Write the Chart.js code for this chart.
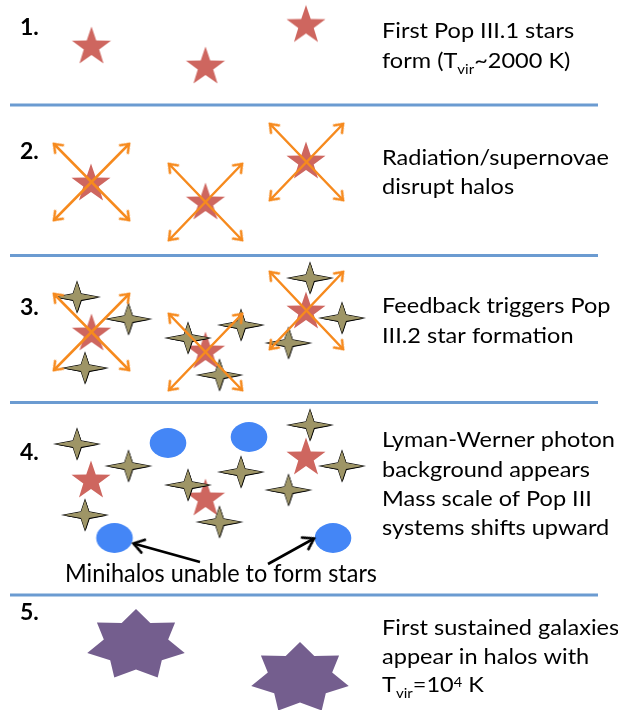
<!DOCTYPE html>
<html><head><meta charset="utf-8">
<script src="https://cdn.jsdelivr.net/npm/chart.js@4/dist/chart.umd.min.js"></script>
<style>html,body{margin:0;padding:0;background:#fff;}canvas{display:block;}</style>
</head><body>
<canvas id="c" width="618" height="710" style="width:618px;height:710px"></canvas>
<script>
// ---------- data ----------
const separatorY = [105, 255.5, 402.5, 595];
const separatorX = [10, 598];

// Pop III.1 stars (red five-pointed)
const popIII1X = [91.5, 205.5, 306,  91, 205.5, 306,  91.5, 205.5, 306,  91, 205.5, 306];
const popIII1Y = [47, 67, 25.5,      184, 203, 162,   334, 352, 312,     481, 499, 458];

// Pop III.2 stars (olive four-pointed)
const popIII2X = [77, 128.5, 85, 188, 241, 219.5, 310, 342, 288.5,
                  77, 128.5, 85, 188, 241, 219.5, 310, 342, 288.5];
const popIII2Y = [297, 319, 368, 338, 325, 375, 278, 318, 343,
                  444, 466, 515, 485, 472, 522, 425, 466, 490];

// Minihalos (blue discs)
const minihaloX = [168, 249, 114.5, 333];
const minihaloY = [443, 437, 538, 538];

// First galaxies (purple seven-pointed)
const galaxyX = [136, 300];
const galaxyY = [645, 678];

// Feedback arrows (double headed): x1, y1, x2, y2
const feedbackArrows = [
  [54,144,129,220],[129,144,54,220],
  [169,164,242,240],[242,164,169,240],
  [270,124,343,200],[343,124,270,200],
  [54,294,129,370],[129,294,54,370],
  [169,314,242,390],[242,314,169,390],
  [270,272,343,349],[343,272,270,349]
];
// Pointer arrows (tail -> tip)
const pointerArrows = [[200,562,133.5,543.5],[268,564,314,538.5]];

// Texts
const stepLabels = ["1.", "2.", "3.", "4.", "5."];
const stepTexts = [
  [["First Pop III.1 stars"], ["form (T", {sub:"vir"}, "~2000 K)"]],
  [["Radiation/supernovae"], ["disrupt halos"]],
  [["Feedback triggers Pop"], ["III.2 star formation"]],
  [["Lyman-Werner photon"], ["background appears"], ["Mass scale of Pop III"], ["systems shifts upward"]],
  [["First sustained galaxies"], ["appear in halos with"], ["T", {sub:"vir"}, "=10", {sup:"4"}, " K"]]
];
const minihaloCaption = "Minihalos unable to form stars";

// ---------- layout / style ----------
const stepLabelX = 20, stepLabelBase = [35, 158.5, 315, 460, 620];
const textX = 382;
const textBase = [[37.5, 67.5], [165, 194], [313, 343], [447, 477, 506, 535], [635, 663.5, 692]];
const captionX = 65, captionBase = 582;
const FONT = "Lato, 'Open Sans', sans-serif";

const COL = {sep:'#6b9bd1', red:'#ce665f', olive:'#9e9566', blue:'#4486f6', purple:'#745e8e', orange:'#f68a1e', black:'#000'};

function shapeCanvas(w, h, draw){ const c=document.createElement('canvas'); c.width=w; c.height=h; draw(c.getContext('2d'), w/2, h/2); return c; }
function starPath(g, cx, cy, n, Rx, Ry, rx, ry){
  g.beginPath();
  for(let i=0;i<2*n;i++){ const a=-Math.PI/2+i*Math.PI/n, o=i%2===0;
    g.lineTo(cx+Math.cos(a)*(o?Rx:rx), cy+Math.sin(a)*(o?Ry:ry)); }
  g.closePath();
}
const redStarImg = shapeCanvas(46,46,(g,cx,cy)=>{ starPath(g,cx,cy,5,20.5,20.5,8.1,8.1); g.fillStyle=COL.red; g.fill(); });
const oliveStarImg = shapeCanvas(50,38,(g,cx,cy)=>{
  starPath(g,cx+0.7,cy+0.8,4,21,15,5.6,4.4); g.fillStyle='#000'; g.fill();
  starPath(g,cx,cy,4,21,15,5.6,4.4); g.lineWidth=1.1; g.strokeStyle='#000'; g.lineJoin='miter'; g.stroke();
  g.fillStyle=COL.olive; g.fill(); });
const purpleStarImg = shapeCanvas(110,80,(g,cx,cy)=>{ starPath(g,cx,cy,7,50,36,33,24.4); g.fillStyle=COL.purple; g.fill(); });
const discImg = shapeCanvas(42,36,(g,cx,cy)=>{ g.beginPath(); g.ellipse(cx,cy,18.3,15,0,0,Math.PI*2); g.fillStyle=COL.blue; g.fill(); });
function headImg(len, ang, color, lw){
  const s = Math.ceil(len*2+6);
  return shapeCanvas(s,s,(g,cx,cy)=>{ const a=ang*Math.PI/180;
    g.beginPath(); g.moveTo(cx-len*Math.cos(a), cy-len*Math.sin(a)); g.lineTo(cx,cy); g.lineTo(cx-len*Math.cos(a), cy+len*Math.sin(a));
    g.strokeStyle=color; g.lineWidth=lw; g.lineCap='round'; g.lineJoin='miter'; g.stroke(); });
}
const orangeHead = headImg(9, 37, COL.orange, 2.5);
const blackHead = headImg(12, 33, COL.black, 2.6);

const xy = (xs, ys) => xs.map((x,i)=>({x, y:ys[i]}));
const datasets = [];
separatorY.forEach(y => datasets.push({data:[{x:separatorX[0],y},{x:separatorX[1],y}], showLine:true,
  borderColor:COL.sep, borderWidth:3, pointRadius:0, order:20}));
datasets.push({data:xy(galaxyX,galaxyY), pointStyle:purpleStarImg, pointRadius:10, order:15});
datasets.push({data:xy(minihaloX,minihaloY), pointStyle:discImg, pointRadius:10, order:14});
datasets.push({data:xy(popIII1X,popIII1Y), pointStyle:redStarImg, pointRadius:10, order:13});
datasets.push({data:xy(popIII2X,popIII2Y), pointStyle:oliveStarImg, pointRadius:10, order:12});
const dirDeg = (x1,y1,x2,y2) => Math.atan2(y2-y1, x2-x1)*180/Math.PI;
feedbackArrows.forEach(([x1,y1,x2,y2]) => {
  const d = dirDeg(x1,y1,x2,y2);
  datasets.push({data:[{x:x1,y:y1,rot:d+180},{x:x2,y:y2,rot:d}], showLine:true, borderColor:COL.orange, borderWidth:2.5,
    borderCapStyle:'round', pointStyle:orangeHead, pointRadius:5, pointRotation:c=>c.raw?c.raw.rot:0, order:5});
});
pointerArrows.forEach(([x1,y1,x2,y2]) => {
  const d = dirDeg(x1,y1,x2,y2);
  datasets.push({data:[{x:x1,y:y1,rot:0,tip:false},{x:x2,y:y2,rot:d,tip:true}], showLine:true, borderColor:COL.black, borderWidth:2.6,
    borderCapStyle:'butt', pointStyle:blackHead, pointRadius:c=>(c.raw&&c.raw.tip)?5:0, pointRotation:c=>c.raw?c.raw.rot:0, order:4});
});

function drawRich(ctx, segs, px, py, size, weight, sx){
  ctx.save(); ctx.translate(px, py); ctx.scale(sx, 1);
  let cx = 0;
  segs.forEach(s => {
    let t, sz = size, dy = 0;
    if (typeof s === 'string') t = s;
    else if (s.sub) { t = s.sub; sz = size*0.64; dy = size*0.30; }
    else { t = s.sup; sz = size*0.62; dy = -size*0.24; }
    ctx.font = `${weight} ${sz}px ${FONT}`;
    ctx.fillText(t, cx, dy);
    cx += ctx.measureText(t).width;
  });
  ctx.restore();
}

const textPlugin = {
  id:'diagramText',
  afterDraw(chart){
    const ctx = chart.ctx, X = chart.scales.x, Y = chart.scales.y;
    ctx.save(); ctx.fillStyle = '#000'; ctx.textBaseline = 'alphabetic'; ctx.textAlign = 'left';
    ctx.font = `400 21px ${FONT}`;
    const sxR = 233 / ctx.measureText("Lyman-Werner photon").width;
    ctx.font = `400 25px ${FONT}`;
    const sxC = 312 / ctx.measureText(minihaloCaption).width;
    stepLabels.forEach((l,i) => drawRich(ctx, [l], X.getPixelForValue(stepLabelX), Y.getPixelForValue(stepLabelBase[i]), 23, 700, 1));
    stepTexts.forEach((lines,i) => lines.forEach((segs,j) =>
      drawRich(ctx, segs, X.getPixelForValue(textX), Y.getPixelForValue(textBase[i][j]), 21, 400, sxR)));
    drawRich(ctx, [minihaloCaption], X.getPixelForValue(captionX), Y.getPixelForValue(captionBase), 25, 400, sxC);
    ctx.restore();
  }
};

new Chart(document.getElementById('c'), {
  type:'scatter',
  data:{datasets},
  options:{
    responsive:false, animation:false, events:[], devicePixelRatio:1,
    layout:{padding:0, autoPadding:false},
    plugins:{legend:{display:false}, tooltip:{enabled:false}, title:{display:false}},
    elements:{line:{tension:0}, point:{borderWidth:0, hoverRadius:0}},
    scales:{
      x:{type:'linear', min:0, max:618, display:false},
      y:{type:'linear', min:0, max:710, reverse:true, display:false}
    }
  },
  plugins:[textPlugin]
});
</script>
</body></html>
